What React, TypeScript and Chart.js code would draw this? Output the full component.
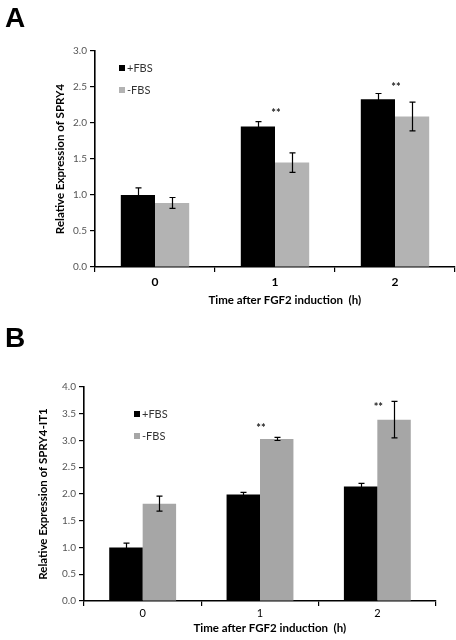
import React, { useEffect, useRef } from "react";
import { Chart, registerables } from "chart.js";
Chart.register(...registerables);

// ---------- data ----------
const categories = ["0", "1", "2"];
const seriesLabels = ["+FBS", "-FBS"];
const sigLabels = ["", "**", "**"];

// Panel A: SPRY4
const spry4Plus = [1.0, 1.95, 2.33];
const spry4PlusErr = [0.1, 0.07, 0.08];
const spry4Minus = [0.89, 1.45, 2.09];
const spry4MinusErr = [0.075, 0.135, 0.2];
const spry4SigLevel = [null, 2.13, 2.5];
const spry4YMax = 3.0;

// Panel B: SPRY4-IT1
const it1Plus = [1.0, 1.99, 2.14];
const it1PlusErr = [0.08, 0.04, 0.06];
const it1Minus = [1.82, 3.03, 3.39];
const it1MinusErr = [0.14, 0.03, 0.34];
const it1SigLevel = [null, 3.22, 3.61];
const it1YMax = 4.0;

const yStep = 0.5;
const FONT = "Lato, 'DejaVu Sans', sans-serif";

const extrasPlugin = {
  id: "panelExtras",
  afterDatasetsDraw(chart: any, _args: any, opts: any) {
    const ctx = chart.ctx;
    const ys = chart.scales.y;
    const xs = chart.scales.x;
    const area = chart.chartArea;
    ctx.save();
    // error bars
    chart.data.datasets.forEach((ds: any, di: number) => {
      const meta = chart.getDatasetMeta(di);
      meta.data.forEach((bar: any, i: number) => {
        const v = ds.data[i];
        const e = ds.errors[i];
        const cx = Math.round(bar.x) + 0.5;
        const top = ys.getPixelForValue(v + e);
        const bot = ys.getPixelForValue(v - e);
        ctx.strokeStyle = "#000";
        ctx.lineWidth = 1.2;
        ctx.beginPath();
        ctx.moveTo(cx, top);
        ctx.lineTo(cx, bot);
        ctx.moveTo(cx - 3, top);
        ctx.lineTo(cx + 3, top);
        ctx.moveTo(cx - 3, bot);
        ctx.lineTo(cx + 3, bot);
        ctx.stroke();
      });
    });
    // significance marks
    ctx.fillStyle = "#222";
    ctx.font = `bold 11px ${FONT}`;
    ctx.textAlign = "center";
    ctx.textBaseline = "middle";
    opts.sigLevel.forEach((lvl: number | null, i: number) => {
      if (lvl == null || !sigLabels[i]) return;
      ctx.fillText(sigLabels[i], xs.getPixelForValue(i) + opts.sigDx, ys.getPixelForValue(lvl));
    });
    // legend inside plot
    ctx.textAlign = "left";
    ctx.font = `11px ${FONT}`;
    chart.data.datasets.forEach((ds: any, di: number) => {
      const lx = area.left + opts.legendX;
      const ly = area.top + opts.legendY + di * 22;
      ctx.fillStyle = ds.backgroundColor;
      ctx.fillRect(lx, ly - 3, 6, 6);
      ctx.fillStyle = "#333";
      ctx.fillText(ds.label, lx + 8, ly + 0.5);
    });
    // panel letter
    ctx.fillStyle = "#000";
    ctx.font = "bold 28px 'Liberation Sans', Arial, sans-serif";
    ctx.textBaseline = "alphabetic";
    ctx.fillText(opts.letter, opts.letterX, opts.letterY);
    ctx.restore();
  },
};

function makeConfig(p: any) {
  return {
    type: "bar",
    data: {
      labels: categories,
      datasets: [
        {
          label: seriesLabels[0],
          data: p.plus,
          errors: p.plusErr,
          backgroundColor: "#000000",
          borderWidth: 0,
          categoryPercentage: 0.57,
          barPercentage: 1,
        },
        {
          label: seriesLabels[1],
          data: p.minus,
          errors: p.minusErr,
          backgroundColor: p.gray,
          borderWidth: 0,
          categoryPercentage: 0.57,
          barPercentage: 1,
        },
      ],
    },
    options: {
      responsive: false,
      animation: false,
      layout: { padding: p.padding },
      plugins: {
        legend: { display: false },
        tooltip: { enabled: false },
        panelExtras: {
          sigLevel: p.sigLevel,
          sigDx: 1,
          legendX: p.legendX,
          legendY: p.legendY,
          letter: p.letter,
          letterX: 5,
          letterY: 27,
        },
      },
      scales: {
        x: {
          grid: { display: true, drawOnChartArea: false, tickLength: 5, color: "#000", offset: true, lineWidth: 1.2 },
          border: { color: "#000", width: 1.6 },
          ticks: {
            font: { family: FONT, size: p.xTickSize, weight: p.xTickWeight },
            color: "#000",
            padding: p.xTickPad,
          },
          title: {
            display: true,
            text: "       Time after FGF2 induction  (h)",
            font: { family: FONT, size: 11.5, weight: "bold" },
            color: "#000",
            padding: { top: 4, bottom: 4 },
          },
          afterFit: (s: any) => {
            s.height = p.xHeight;
          },
        },
        y: {
          min: 0,
          max: p.yMax,
          ticks: {
            stepSize: yStep,
            callback: (v: any) => Number(v).toFixed(1),
            font: { family: FONT, size: 10 },
            color: "#555",
            padding: 3,
          },
          grid: { display: true, drawOnChartArea: false, tickLength: 5, color: "#000", lineWidth: 1.2 },
          border: { color: "#000", width: 1.6 },
          title: {
            display: true,
            text: p.yTitle,
            font: { family: FONT, size: 11.5, weight: "bold" },
            color: "#000",
            padding: { top: 4, bottom: 4 },
          },
          afterFit: (s: any) => {
            s.width = p.yWidth;
          },
        },
      },
    },
    plugins: [extrasPlugin],
  };
}

function Panel({ cfg, top }: { cfg: any; top: number }) {
  const ref = useRef<HTMLCanvasElement>(null);
  useEffect(() => {
    const chart = new Chart(ref.current as HTMLCanvasElement, makeConfig(cfg) as any);
    return () => chart.destroy();
  }, []);
  return (
    <canvas
      ref={ref}
      width={456}
      height={320}
      style={{ position: "absolute", left: 0, top, width: 456, height: 320 }}
    />
  );
}

const panelA = {
  letter: "A",
  plus: spry4Plus,
  plusErr: spry4PlusErr,
  minus: spry4Minus,
  minusErr: spry4MinusErr,
  sigLevel: spry4SigLevel,
  yMax: spry4YMax,
  gray: "#b3b3b3",
  yTitle: "Relative Expression of SPRY4",
  padding: { left: 49, right: 1, top: 51, bottom: 9 },
  yWidth: 46,
  xHeight: 44,
  xTickSize: 12,
  xTickWeight: "bold",
  xTickPad: 3,
  legendX: 24,
  legendY: 17,
};

const panelB = {
  letter: "B",
  plus: it1Plus,
  plusErr: it1PlusErr,
  minus: it1Minus,
  minusErr: it1MinusErr,
  sigLevel: it1SigLevel,
  yMax: it1YMax,
  gray: "#a6a6a6",
  yTitle: "Relative Expression of SPRY4-IT1",
  padding: { left: 32, right: 20, top: 67, bottom: 1 },
  yWidth: 52,
  xHeight: 38,
  xTickSize: 11,
  xTickWeight: "normal",
  xTickPad: 1,
  legendX: 50,
  legendY: 27,
};

export default function App() {
  return (
    <div style={{ position: "absolute", left: 0, top: 0, width: 456, height: 640, background: "#fff" }}>
      <Panel cfg={panelA} top={0} />
      <Panel cfg={panelB} top={320} />
    </div>
  );
}
